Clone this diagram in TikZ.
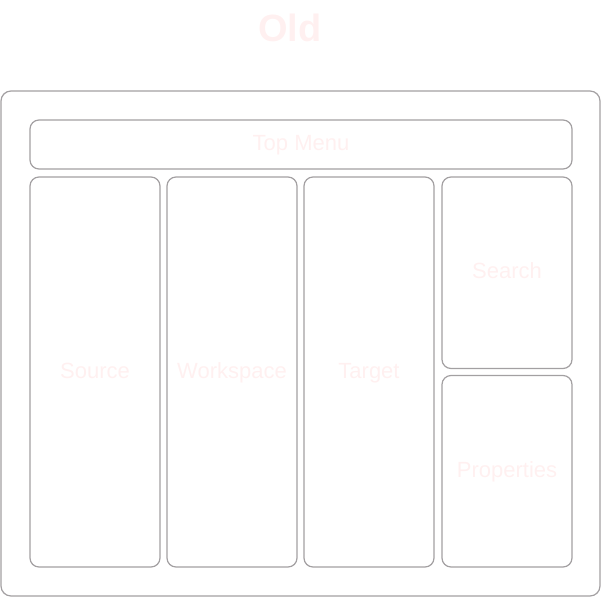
\documentclass[tikz,border=0pt]{standalone}
\usepackage{xcolor}
\usepackage{fontspec}
\setmainfont{Liberation Sans}
\usepackage{tikz}
\usetikzlibrary{positioning}

\definecolor{panelline}{RGB}{163,160,162}
\definecolor{paletext}{RGB}{255,240,240}

\begin{document}
\begin{tikzpicture}[
    x=1pt, y=-1pt,
    node distance=5.8pt and 5.8pt,
    panel/.style={draw=panelline, line width=1.2pt, rounded corners=9pt, inner sep=0pt,
        text=paletext, font=\fontsize{22}{26}\selectfont, text height=16pt, text depth=4pt},
    column/.style={panel, minimum width=130pt, minimum height=390pt},
    sidebox/.style={panel, minimum width=130pt, minimum height=191.5pt}
]
    \useasboundingbox (0,0) rectangle (602,597);

    \node[text=paletext, font=\bfseries\fontsize{38}{44}\selectfont] (title) at (290,28) {Old};

    \node[panel, rounded corners=10pt, minimum width=599pt, minimum height=505pt] (frame) at (300.5,343.5) {};
    \node[panel, minimum width=542pt, minimum height=49pt] (menu) at (301,144.5) {Top Menu};

    \node[column] (source) at (95,372) {Source};
    \node[column, right=of source] (workspace) {Workspace};
    \node[column, right=of workspace] (target) {Target};
    \node[sidebox, anchor=north west] (search) at ([xshift=6.8pt]target.north east) {Search};
    \node[sidebox, below=of search] (properties) {Properties};
\end{tikzpicture}
\end{document}
